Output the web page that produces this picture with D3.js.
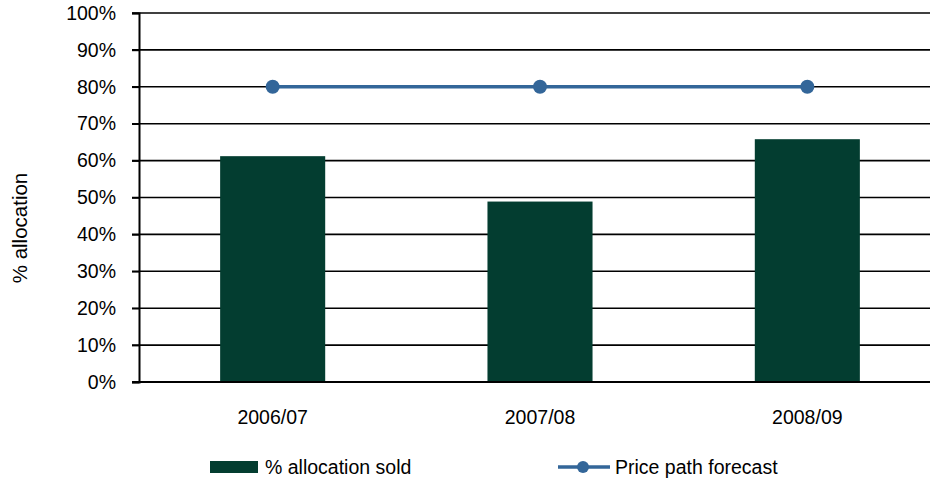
<!DOCTYPE html>
<html><head><meta charset="utf-8">
<script src="https://cdn.jsdelivr.net/npm/d3@7"></script>
<style>body{margin:0;background:#fff}svg{display:block}text{font-family:"Liberation Sans",Arial,sans-serif;fill:#000}</style>
</head><body>
<script>
const categories = ["2006/07", "2007/08", "2008/09"];
const allocationSold = [61.2, 48.9, 65.8];
const pricePath = [80, 80, 80];
const yTicks = [0, 10, 20, 30, 40, 50, 60, 70, 80, 90, 100];
const barLabel = "% allocation sold";
const lineLabel = "Price path forecast";
const yTitle = "% allocation";

(function () {
const W = 930, H = 480, FS = 19.5;
const svg = d3.select("body").append("svg").attr("width", W).attr("height", H);
const mLeft = 139, mTop = 13, mBottom = 382, mRight = 941;
const x = d3.scaleBand().domain(categories).range([mLeft, mRight]).paddingInner(0.607).paddingOuter(0.3035);
const y = d3.scaleLinear().domain([0, 100]).range([mBottom, mTop]);

// gridlines
svg.append("g").selectAll("line").data(yTicks.filter(d => d > 0)).join("line")
  .attr("x1", mLeft - 7).attr("x2", W).attr("y1", d => y(d)).attr("y2", d => y(d))
  .attr("stroke", "#000").attr("stroke-width", 1.6);

// y axis
const yAxis = d3.axisLeft(y).tickValues(yTicks).tickFormat(d => d + "%").tickSize(7).tickPadding(16);
const gy = svg.append("g").attr("transform", `translate(${mLeft},0)`).call(yAxis);
gy.select(".domain").attr("stroke", "#000").attr("stroke-width", 2);
gy.selectAll(".tick line").attr("stroke", "#000").attr("stroke-width", 1.6);
gy.selectAll(".tick text").attr("font-size", FS).attr("font-family", "Liberation Sans, Arial, sans-serif").attr("fill", "#000");

// bars
svg.append("g").selectAll("rect").data(categories).join("rect")
  .attr("x", d => x(d)).attr("width", x.bandwidth())
  .attr("y", (d, i) => y(allocationSold[i])).attr("height", (d, i) => y(0) - y(allocationSold[i]))
  .attr("fill", "#033D30");

// x axis baseline
svg.append("line").attr("x1", mLeft - 7).attr("x2", W).attr("y1", mBottom).attr("y2", mBottom)
  .attr("stroke", "#000").attr("stroke-width", 2);

// x labels
svg.append("g").selectAll("text").data(categories).join("text")
  .attr("x", d => x(d) + x.bandwidth() / 2).attr("y", 424).attr("text-anchor", "middle")
  .attr("font-size", FS).text(d => d);

// line
const line = d3.line().x((d, i) => x(categories[i]) + x.bandwidth() / 2).y(d => y(d));
svg.append("path").datum(pricePath).attr("d", line).attr("fill", "none")
  .attr("stroke", "#336699").attr("stroke-width", 3.5);
svg.append("g").selectAll("circle").data(pricePath).join("circle")
  .attr("cx", (d, i) => x(categories[i]) + x.bandwidth() / 2).attr("cy", d => y(d)).attr("r", 7)
  .attr("fill", "#336699");

// y title
svg.append("text").attr("transform", "translate(27,228) rotate(-90)").attr("text-anchor", "middle")
  .attr("font-size", 20.5).text(yTitle);

// legend
const lg = svg.append("g");
lg.append("rect").attr("x", 210).attr("y", 461).attr("width", 48).attr("height", 12).attr("fill", "#033D30");
lg.append("text").attr("x", 265).attr("y", 474).attr("font-size", FS).text(barLabel);
lg.append("line").attr("x1", 558).attr("x2", 610).attr("y1", 467).attr("y2", 467).attr("stroke", "#336699").attr("stroke-width", 3.5);
lg.append("circle").attr("cx", 583).attr("cy", 467).attr("r", 6).attr("fill", "#336699");
lg.append("text").attr("x", 615).attr("y", 474).attr("font-size", FS).text(lineLabel);
})();
</script>
</body></html>
